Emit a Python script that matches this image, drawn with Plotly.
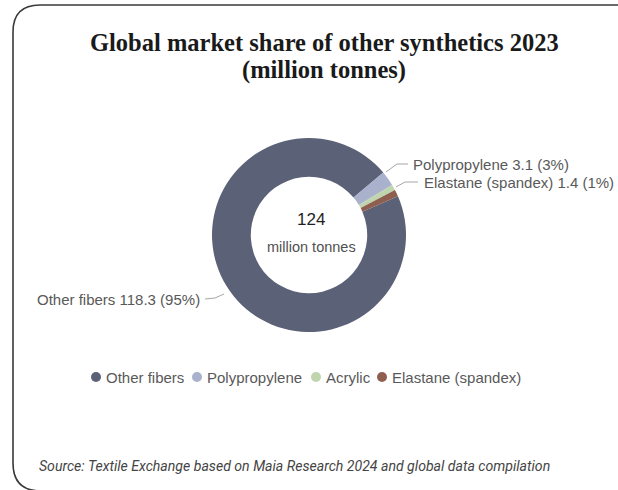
import plotly.graph_objects as go

categories = ["Other fibers", "Polypropylene", "Acrylic", "Elastane (spandex)"]
values = [118.3, 3.1, 1.2, 1.4]
colors = ["#5b6176", "#a9b1cd", "#bfd5ae", "#8e5f4f"]
show_label = [True, True, False, True]

W, H = 618, 490


def px(x):
    return x / W


def py(y):
    return 1 - y / H


total = sum(values)

cx, cy, r = 309, 235, 97

fig = go.Figure()
fig.add_trace(go.Pie(
    labels=categories,
    values=values,
    hole=0.6,
    sort=False,
    direction="clockwise",
    rotation=66.5,
    marker=dict(colors=colors, line=dict(width=0)),
    textinfo="none",
    hoverinfo="label+value+percent",
    showlegend=False,
    domain=dict(x=[px(cx - r), px(cx + r)], y=[py(cy + r), py(cy - r)]),
))

shapes = []
annotations = []

# card border
shapes.append(dict(
    type="path", xref="paper", yref="paper",
    path=(f"M {px(620)},{py(5)} L {px(40)},{py(5)} Q {px(13)},{py(5)} {px(13)},{py(32)} "
          f"L {px(13)},{py(463)} Q {px(13)},{py(491)} {px(41)},{py(491)}"),
    line=dict(color="#3a3a3a", width=1.6),
))

# title
annotations.append(dict(
    x=px(324), y=py(42), xref="paper", yref="paper", showarrow=False,
    text="<b>Global market share of other synthetics 2023</b>",
    font=dict(family="Liberation Serif", size=24.5, color="#1a1a1a"),
    xanchor="center", yanchor="middle",
))
annotations.append(dict(
    x=px(324), y=py(70), xref="paper", yref="paper", showarrow=False,
    text="<b>(million tonnes)</b>",
    font=dict(family="Liberation Serif", size=24.5, color="#1a1a1a"),
    xanchor="center", yanchor="middle",
))

# center text
annotations.append(dict(
    x=px(311), y=py(219), xref="paper", yref="paper", showarrow=False,
    text=f"{total:.0f}", font=dict(family="Liberation Sans", size=17, color="#1f1f1f"),
    xanchor="center", yanchor="middle",
))
annotations.append(dict(
    x=px(311), y=py(247), xref="paper", yref="paper", showarrow=False,
    text="million tonnes", font=dict(family="Liberation Sans", size=14.5, color="#505050"),
    xanchor="center", yanchor="middle",
))

# data labels with leader lines
label_layout = {
    0: dict(text_xy=(202, 299), anchor="right",
            path=[(205, 299), (215, 298), (224, 294)]),
    1: dict(text_xy=(411, 164), anchor="left",
            path=[(386, 172), (397, 164), (408, 164)]),
    3: dict(text_xy=(422, 182), anchor="left",
            path=[(396, 187), (405, 182), (418, 182)]),
}
for i, cat in enumerate(categories):
    if not show_label[i] or i not in label_layout:
        continue
    pct = int(values[i] / total * 100 + 0.5 + 1e-9)
    txt = f"{cat} {values[i]:g} ({pct}%)"
    L = label_layout[i]
    tx, ty = L["text_xy"]
    annotations.append(dict(
        x=px(tx), y=py(ty), xref="paper", yref="paper", showarrow=False,
        text=txt, font=dict(family="Liberation Sans", size=15, color="#595959"),
        xanchor=L["anchor"], yanchor="middle",
    ))
    pts = L["path"]
    p = "M " + " L ".join(f"{px(a)},{py(b)}" for a, b in pts)
    shapes.append(dict(type="path", xref="paper", yref="paper", path=p,
                       line=dict(color="#a6a6a6", width=1)))

# legend
legend_x = [96, 197, 316, 382]
legend_y = 377
for i, cat in enumerate(categories):
    x0 = legend_x[i]
    shapes.append(dict(
        type="circle", xref="paper", yref="paper",
        x0=px(x0 - 5), x1=px(x0 + 5), y0=py(legend_y + 5), y1=py(legend_y - 5),
        fillcolor=colors[i], line=dict(width=0),
    ))
    annotations.append(dict(
        x=px(x0 + 8), y=py(legend_y), xref="paper", yref="paper", showarrow=False,
        text=cat, font=dict(family="Liberation Sans", size=15, color="#595959"),
        xanchor="left", yanchor="middle",
    ))

# source
annotations.append(dict(
    x=px(37), y=py(466), xref="paper", yref="paper", showarrow=False,
    text="<i>Source: Textile Exchange based on Maia Research 2024 and global data compilation</i>",
    font=dict(family="Roboto", size=14.1, color="#444444"),
    xanchor="left", yanchor="middle",
))

fig.update_layout(
    width=W, height=H,
    margin=dict(l=0, r=0, t=0, b=0),
    paper_bgcolor="white", plot_bgcolor="white",
    shapes=shapes, annotations=annotations,
    showlegend=False,
)

fig.write_html(
    "out.html",
    config={"displayModeBar": False},
    post_script="document.body.style.margin='0';document.body.style.overflow='hidden';",
)
